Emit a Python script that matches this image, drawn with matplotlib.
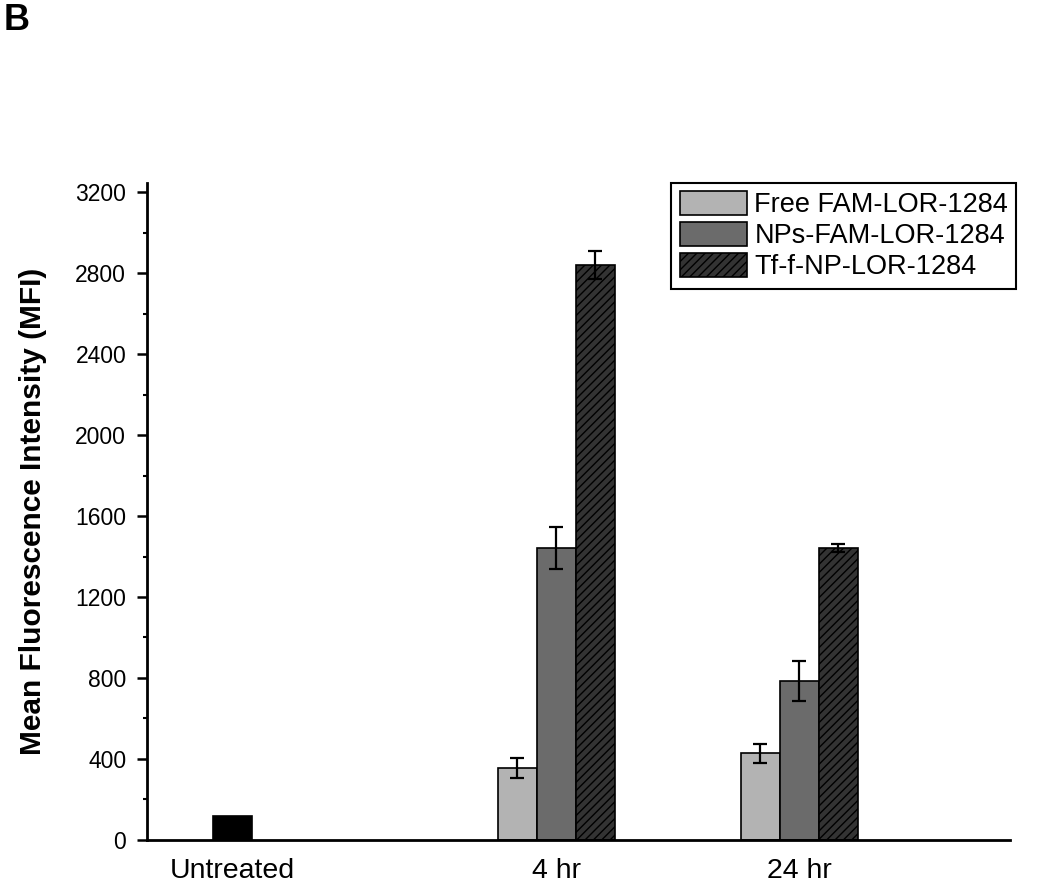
import matplotlib.pyplot as plt
import numpy as np

plt.rcParams['font.family'] = ['Liberation Sans', 'DejaVu Sans']
plt.rcParams['hatch.linewidth'] = 1.0
plt.rcParams['hatch.color'] = 'black'

# Data
groups = ['Untreated', '4 hr', '24 hr']
group_pos = [0, 4, 7]
untreated_mfi = 118
series = ['Free FAM-LOR-1284', 'NPs-FAM-LOR-1284', 'Tf-f-NP-LOR-1284']
free_mfi = [356, 428]
free_err = [50, 46]
nps_mfi = [1442, 785]
nps_err = [105, 100]
tf_mfi = [2840, 1440]
tf_err = [67, 20]

colors = ['#b3b3b3', '#6b6b6b', '#333333']
hatches = [None, None, '////']

fig = plt.figure(figsize=(10.5, 8.93), dpi=100)
ax = fig.add_axes([0.14, 0.0594, 0.822, 0.7357])

w = 0.48
treated_pos = np.array(group_pos[1:])
ax.bar(group_pos[0], untreated_mfi, w, color='black', edgecolor='black', linewidth=1.2)
vals = [free_mfi, nps_mfi, tf_mfi]
errs = [free_err, nps_err, tf_err]
for i in range(3):
    ax.bar(treated_pos + (i - 1) * w, vals[i], w, color=colors[i], edgecolor='black',
           linewidth=1.2, hatch=hatches[i], label=series[i],
           yerr=errs[i], capsize=5,
           error_kw=dict(elinewidth=1.6, capthick=1.6, ecolor='black'))

ax.set_xlim(-1.05, 9.6)
ax.set_ylim(0, 3245)
ax.set_yticks(np.arange(0, 3201, 400))
ax.set_yticks(np.arange(0, 3201, 200), minor=True)
ax.set_xticks(group_pos)
ax.set_xticklabels(groups, fontsize=20.5)
ax.tick_params(axis='x', length=0, pad=13)
ax.tick_params(axis='y', which='major', length=7, width=1.8, labelsize=16.5, pad=8, direction='out')
ax.tick_params(axis='y', which='minor', length=3, width=1.5, direction='out')

for s in ['top', 'right']:
    ax.spines[s].set_visible(False)
for s in ['left', 'bottom']:
    ax.spines[s].set_linewidth(2.0)

ax.set_ylabel('Mean Fluorescence Intensity (MFI)', fontsize=21.5, fontweight='bold', labelpad=20)

leg = ax.legend(loc='upper right', bbox_to_anchor=(1.007, 1.0), borderaxespad=0,
                fontsize=19.5, handlelength=2.5, handleheight=0.96, handletextpad=0.26,
                labelspacing=0.15, fancybox=False, edgecolor='black', framealpha=1,
                borderpad=0.3)
leg.get_frame().set_linewidth(1.5)

fig.text(0.003, 0.997, 'B', fontsize=26, fontweight='bold', va='top', ha='left')

fig.savefig('out.png', dpi=100)
